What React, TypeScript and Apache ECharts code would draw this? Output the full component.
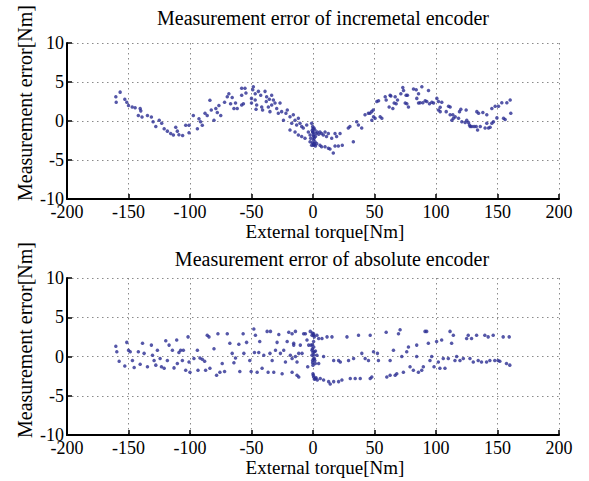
import React, { useEffect, useRef } from "react";
import * as echarts from "echarts";

const xTicks = [-200, 200, 50];
const yTicks = [-10, 10, 5];

const titles = ["Measurement error of incremetal encoder", "Measurement error of absolute encoder"];
const xName = "External torque[Nm]";
const yName = "Measurement error[Nm]";

const incTorque = [
  -160.3, -160, -156.8, -153, -151.4, -150, -147, -144.6, -140.5, -140, -142, -139, -134.6, -131.4, -130, -127.8, -125, -123, -121, -118.4,
  -115.7, -113.5, -111.6, -110.3, -109, -106, -103.5, -100.8, -100.8, -97.3, -94, -92.7, -91.4, -90, -87.8, -86, -83.8, -82.7, -80.5, -79,
  -77.8, -76.5, -75, -71.9, -69.7, -68.4, -67, -65.7, -64.3, -63, -61.6,
  -58, -55.3, -54.5, -58, -56.6, -58, -48.5, -49, -47, -44.4, -42.5, -50, -47, -50, -45.8, -46.3, -41.7, -41, -39, -38,
  -37.7, -35.5, -36.3, -35, -33.6, -32.2, -30.9, -33.6, -29.5, -26.8, -28.2, -25.5, -24, -22, -20.9, -18.7, -17.3, -18.7, -16, -14.6,
  -13.3, -11.9, -10.6, -9.2, -14.6, -11.9, -9.2, -6.5, -7.9, -5.1, -3.8, -2.4, -1.9, -1.1, -0.3, -0.3, 0.3, 0.3, 0.3, 0.8,
  1.6, 2.4, 3.5, 4.6, 5.7, 7, 8.4, 9.8, 11, 12.5, 15.2, 17.9, 19.2, 22, 23.8, 1.6, 3, 5.7, 7, 9.8,
  12.5, 16.5, 13.8, 17.9, 20.6, -1.1, -2.4, 28.7, 30, 32.8, 35.5, 36.9, 39.6, 42.3, 45, 46.3, 47.7, 49,
  0, 0.5, -0.5, 1, 0.2, 1.2, 2, 2, -0.6, 0.6,
  47.8, 49.2, 50.5, 51.9, 53.3, 54.6, 56, 58.7, 59.5, 61.9, 62.7, 63.3, 64.9, 66, 66.8, 67.6, 68.7, 71.4, 73, 73.6,
  75, 75.7, 76.8, 77.6, 76.3, 81.7, 83.9, 84.4, 85.8, 85.8, 87.1, 88.5, 89.3, 91.2, 92.5, 93.9, 94.7, 96.6, 98, 100.7,
  102, 103.4, 104.7, 102, 103.4, 108.3, 110.2, 111.5, 111.5, 112.9, 113.7, 114.2, 115.6, 118.3, 119.1, 120.2, 121, 124.5, 125, 126.4,
  123.7, 127.2, 127.8, 129.1, 131, 132.7, 133.2, 133.8, 134.6, 136, 138.1, 139.9, 141.3, 141.3, 142.7, 144, 145.4, 145.4, 146.7, 148.1,
  149.5, 150.8, 153.5, 154.9, 156.2, 157.6, 160.3, 160.8,
];
const incError = [
  3.1, 2.4, 3.7, 2.8, 2.4, 2.0, 1.8, 1.7, 1.6, 1.3, 0.7, 0.5, 0.7, 0.5, -0.1, -0.7, 0.1, -0.3, -1.0, -1.3,
  -1.6, -1.8, -0.8, -1.3, -1.75, -1.85, -0.55, -1.5, -0.55, 0.7, -1.0, 0.3, -0.1, -0.55, 1.0, 0.7, 2.65, 1.4, 0.1, 1.6,
  1.1, 2.0, 0.7, 2.4, 3.1, 3.5, 2.2, 3.0, 1.6, 2.3, 1.6,
  4.2, 4.2, 3.6, 3.3, 2.2, 2.05, 4.4, 4.0, 3.5, 3.8, 3.3, 2.9, 2.7, 2.3, 2.05, 1.5, 1.8, 1.4, 3.8, 2.5,
  3.1, 2.8, 1.8, 1.2, 3.3, 2.7, 2.3, 2.05, 1.6, 2.3, 1.0, 1.2, 0.1, 1.0, 1.4, 0.55, -0.3, -1.15, 0.8, 0.1,
  -0.5, 0.35, -0.3, -0.7, -1.4, -1.8, -2.0, -2.2, -0.9, -0.5, -1.4, -1.8, -2.2, -0.3, -0.7, -1.4, -1.8, -2.4, -3.1, -0.9,
  -1.15, -1.6, -1.4, -1.7, -1.4, -1.6, -1.8, -1.4, -2.0, -1.6, -2.2, -1.6, -2.0, -1.6, -3.1, -2.65, -2.9, -3.1, -3.3, -3.3,
  -3.5, -4.1, -3.6, -3.2, -3.2, -3.1, -2.65, -0.9, -0.7, -2.65, -0.1, -0.5, -0.9, 0.8, 1.0, 1.0, 1.2, 1.4,
  -1.0, -2.0, -2.8, -2.2, -1.5, -3.0, -2.0, -3.2, -1.2, -2.9,
  0.1, 0.55, 0.35, 2.5, 2.6, 0.55, 0.35, 3.1, 2.7, 1.8, 3.3, 3.2, 1.6, 2.3, 3.1, 2.2, 2.7, 3.5, 4.3, 3.9,
  2.3, 3.3, 3.3, 1.8, 2.2, 4.1, 4.0, 2.9, 3.5, 2.3, 2.35, 4.4, 2.35, 2.6, 2.5, 3.9, 2.2, 2.4, 2.3, 2.9,
  2.5, 1.75, 2.4, 1.4, 1.2, 1.2, 1.9, 1.8, 0.8, 0.1, 0.8, 0.35, 0.55, 0.35, 1.2, 1.5, -0.1, 1.4, 0.1, -0.2,
  -0.2, -0.5, -0.7, -0.7, -0.7, -0.7, 1.2, -1.15, 1.0, -0.7, 1.1, -0.9, 0.8, -0.3, -0.9, -0.8, -0.3, 1.6, -0.1, 1.9,
  0.4, 1.9, 2.35, 0.35, 0.2, 2.35, 2.7, 1.0,
];

const absTorque = [
  -160.3, -159.5, -157.6, -153, -151.4, -150, -148.6, -146.8, -145.4, -142, -140.5, -138.6, -137.3, -134.6, -131.4, -130.5, -129.2, -127.8, -126.5, -124.3,
  -123.2, -121, -119.7, -118.4, -117, -114.3, -113, -110.8, -110.3, -109, -107.6, -106.2, -105.4, -103.5, -101.6, -100.8, -100, -96.8, -94, -93.5,
  -91.9, -90, -88.1, -87.3, -86, -84.6, -83.8, -80.5, -78.4, -77.3, -75.7, -73.8, -71.9, -69.7, -67.6, -65.7, -64.3, -63, -60.3, -59.5,
  -56.8, -56.2, -54, -51.4, -50.3, -48.1, -47.6, -46.8, -45.4, -44.1, -43.3, -41.4, -40, -37.3, -36.5, -35, -34.6, -33.2, -31.9, -30.5,
  -29.2, -27.8, -26.5, -25.1, -23.8, -22.4, -21, -19.7, -18.4, -17, -15.7, -14.3, -13, -11.6,
  -17, -14.3, -15.7, -17, -13, -11.6, -10.3, -8.9, -7.6, -6.2, -4.9, -4.3, -3.5, -2.2, -1.6, -0.8, -0.8, -0.8, -0.3, 0,
  0.5, 0.5, 1.1, 1.1, 1.9, 0, 0.5, 1.9, 3.2, 4.6, 3.2, 4.6, 5.9, 7.3, 8.6, 8.6, 11.4, 12.7, 14, 15.4,
  16.8, 16.8, 20.8, 20.8, 22.2, 23.5, 27.6, 28.9, 30.3, 33, 34.3, 37, 38.4, 39.7, 42.4, 45.1, 46.5, 46.5, 47.8, 49.2,
  52.4, 53.2, 59.5, 60, 62.7, 62.7, 65.4, 66.8, 68.1, 69.5, 70.8, 72.2, 73.5, 76.2, 77.6, 78.9, 81.6, 84.3, 84.3, 85.7,
  88.4, 89.7, 91.1, 92.4, 93.8, 95.1, 96.5, 98.4, 100.5, 101.9, 103.2, 104.6, 105.9, 107.3, 110, 111.4, 112.7, 114.1, 115.4, 116.8,
  119.5, 122.2, 124.9, 126.2, 127.6, 128.9, 130.3, 133, 134.3, 137, 139.7, 141.1, 142.4, 143.8, 146.5, 147.8, 150.5, 151.9, 154.6, 157.3,
  159.5, 160,
  0, 0.3, -0.5, 0.8, -0.3, 1.5, 0.5, -0.5, 1, 0.3, 1.2, 2.5, 3.5, -0.4, 0.6, 2,
];
const absError = [
  1.3, 0.6, -0.6, -1.2, 1.8, 0.8, 0.6, -0.5, -1.4, 0.6, -1.0, 1.7, 0.4, -1.3, 1.45, 0.15, -0.5, -1.1, 0.8, -0.25,
  -1.3, -1.5, 2.0, -0.5, 1.45, 0.8, -1.45, 2.1, -0.9, 0.5, 0.8, -0.5, 0.8, -1.75, 2.5, -0.7, -2.0, -0.25, 0.8, -1.75,
  -0.2, -0.35, -0.6, -1.75, 2.7, 2.5, -1.5, 1.0, -2.4, 2.9, -2.0, -0.9, -1.9, 2.9, 1.7, 0.4, -0.8, -0.2, 1.55, -1.9,
  2.9, 0.4, 1.8, -0.5, -1.9, 3.5, 0.5, 2.7, -2.0, 0.5, 1.9, -1.5, 0.15, 3.2, -2.0, 0.4, 3.2, -0.5, -2.0, 0.8,
  1.8, 2.8, 0.4, -2.2, 0.8, -0.7, 1.9, 3.1, 0.15, -2.0, 1.45, 0, -2.4, 0.4,
  2.9, 3.2, 1.7, -0.25, -0.7, -2.6, 1.45, 0.4, 2.9, 2.9, 2.1, -1.3, 1.45, 3.2, 1.45, 2.7, 0.8, 0.15, -0.5, -1.1,
  2.7, 1.9, 0.6, -0.25, -0.9, -2.2, -2.6, -2.8, 2.7, 2.3, 0.15, -0.9, -2.8, 2.3, 0, -3.0, 2.5, -3.2, -3.5, 2.5,
  -0.5, -3.2, -0.5, -3.2, -0.7, -3.0, 2.5, -0.5, -2.8, -0.25, -2.8, 2.7, -2.8, 0.4, -0.25, -0.5, 2.7, -2.8, -2.6, 0.6,
  0.4, -0.5, 3.1, -2.6, -0.5, -2.4, 0.8, -2.4, -2.2, 2.9, 3.4, 0, -2.0, 0.6, 1.2, -1.3, -1.75, 1.45, 0, -2.0,
  -1.75, -1.3, 3.2, 3.2, 1.7, -0.5, 0, -1.3, 1.9, -0.7, -1.5, 2.1, -0.25, -1.5, -0.25, 3.2, 1.7, 2.7, -0.5, 0,
  -0.5, -0.25, 2.3, 2.7, -0.25, 2.3, -0.7, 2.7, -0.5, -0.7, 2.7, -0.7, 2.5, -0.5, 2.7, -0.5, -0.5, -0.6, 2.5, -0.9,
  2.5, -1.1,
  0.5, -0.3, 1.0, 0.2, -0.8, -0.5, 2.9, 3.0, 2.5, -2.4, -2.9, -2.7, -3.0, 1.5, 1.2, 0.7,
];

const FONT = "Liberation Serif";
const DOT = "#2a2d92";

function zip(xs: number[], ys: number[]) {
  return xs.map((x, i) => [x, ys[i]]);
}

const gridLine = { show: true, lineStyle: { color: "#8a8a8a", width: 1, type: [1.5, 3.5] } };

function makeX(gridIndex: number) {
  return {
    type: "value",
    gridIndex,
    min: xTicks[0],
    max: xTicks[1],
    interval: xTicks[2],
    axisLine: { show: true, onZero: false, lineStyle: { color: "#000", width: 2 } },
    axisTick: { show: true, inside: true, length: 5, lineStyle: { color: "#000", width: 1.5 } },
    axisLabel: { color: "#000", fontFamily: FONT, fontSize: 18, lineHeight: 14, margin: 6 },
    splitLine: gridLine,
  };
}
function makeY(gridIndex: number) {
  return {
    type: "value",
    gridIndex,
    min: yTicks[0],
    max: yTicks[1],
    interval: yTicks[2],
    axisLine: { show: true, onZero: false, lineStyle: { color: "#000", width: 2 } },
    axisTick: { show: true, inside: true, length: 5, lineStyle: { color: "#000", width: 1.5 } },
    axisLabel: { color: "#000", fontFamily: FONT, fontSize: 18, lineHeight: 14, margin: 3 },
    splitLine: gridLine,
  };
}

function txt(text: string, x: number, y: number, size: number, rot = 0) {
  return {
    type: "text",
    x,
    y,
    rotation: rot,
    style: {
      text,
      fill: "#000",
      font: `${size}px "${FONT}"`,
      lineHeight: 16,
      align: "center",
      verticalAlign: "middle",
    },
  };
}

export default function App() {
  const ref = useRef<HTMLDivElement>(null);
  useEffect(() => {
    if (!ref.current) return;
    const chart = echarts.init(ref.current, null, { renderer: "svg" });
    chart.setOption({
      animation: false,
      backgroundColor: "#fff",
      grid: [
        { left: 67, top: 43, width: 492, height: 156, containLabel: false, outerBoundsMode: "none" },
        { left: 67, top: 278, width: 492, height: 157, containLabel: false, outerBoundsMode: "none" },
      ],
      xAxis: [makeX(0), makeX(1)],
      yAxis: [makeY(0), makeY(1)],
      series: [
        {
          type: "scatter",
          xAxisIndex: 0,
          yAxisIndex: 0,
          symbol: "circle",
          symbolSize: 3.5,
          itemStyle: { color: DOT },
          data: zip(incTorque, incError),
        },
        {
          type: "scatter",
          xAxisIndex: 1,
          yAxisIndex: 1,
          symbol: "circle",
          symbolSize: 3.5,
          itemStyle: { color: DOT },
          data: zip(absTorque, absError),
        },
      ],
      graphic: [
        txt(titles[0], 323, 18, 20),
        txt(titles[1], 332, 259, 20),
        txt(xName, 325, 231, 19),
        txt(xName, 325, 467, 19),
        txt(yName, 25, 103, 20, Math.PI / 2),
        txt(yName, 25, 340, 20, Math.PI / 2),
      ],
    });
    return () => chart.dispose();
  }, []);
  return (
    <div
      ref={ref}
      style={{ position: "fixed", left: 0, top: 0, width: 589, height: 481, background: "#fff" }}
    />
  );
}
